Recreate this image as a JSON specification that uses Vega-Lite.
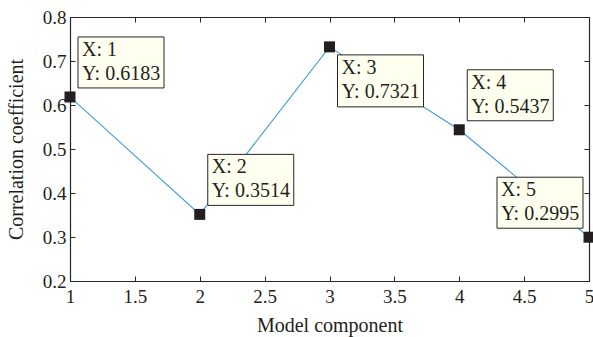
{
  "$schema": "https://vega.github.io/schema/vega-lite/v6.json",
  "width": 519,
  "height": 264,
  "autosize": "none",
  "padding": {"left": 70, "top": 17, "right": 4, "bottom": 56},
  "background": "white",
  "config": {
    "view": {"stroke": null},
    "font": "Liberation Serif",
    "axis": {
      "domainColor": "#262626",
      "domainWidth": 1.2,
      "tickColor": "#262626",
      "tickSize": -5,
      "tickWidth": 1,
      "grid": false,
      "labelFont": "Liberation Serif",
      "labelFontSize": 19,
      "labelColor": "#231f20",
      "titleFont": "Liberation Serif",
      "titleFontSize": 20,
      "titleFontWeight": "normal",
      "titleColor": "#231f20"
    }
  },
  "data": {
    "values": [
      {"x": 1, "y": 0.6183},
      {"x": 2, "y": 0.3514},
      {"x": 3, "y": 0.7321},
      {"x": 4, "y": 0.5437},
      {"x": 5, "y": 0.2995}
    ]
  },
  "transform": [
    {"calculate": "['X: ' + datum.x, 'Y: ' + format(datum.y, '.4f')]", "as": "tip"}
  ],
  "layer": [
    {
      "mark": {"type": "line", "color": "#3f9bd8", "strokeWidth": 1.1},
      "encoding": {
        "x": {"field": "x", "type": "quantitative",
          "scale": {"domain": [1, 5], "nice": false, "zero": false},
          "axis": {"orient": "bottom", "values": [1, 1.5, 2, 2.5, 3, 3.5, 4, 4.5, 5], "format": "~g", "title": "Model component", "labelPadding": 11, "titlePadding": 9, "labelFlush": false}},
        "y": {"field": "y", "type": "quantitative",
          "scale": {"domain": [0.2, 0.8], "nice": false, "zero": false},
          "axis": {"orient": "left", "values": [0.2, 0.3, 0.4, 0.5, 0.6, 0.7, 0.8], "format": "~g", "title": "Correlation coefficient", "labelPadding": 9, "titlePadding": 16, "labelFlush": false}}
      }
    },
    {
      "mark": {"type": "point", "shape": "square", "filled": true, "size": 121, "color": "#231f20", "opacity": 1},
      "encoding": {
        "x": {"field": "x", "type": "quantitative", "axis": {"orient": "top", "values": [1, 1.5, 2, 2.5, 3, 3.5, 4, 4.5, 5], "labels": false, "title": null}},
        "y": {"field": "y", "type": "quantitative", "axis": {"orient": "right", "values": [0.2, 0.3, 0.4, 0.5, 0.6, 0.7, 0.8], "labels": false, "title": null}}
      }
    },
    {
      "transform": [{"filter": "datum.x == 1 || datum.x == 2 || datum.x == 4"}],
      "mark": {"type": "rect", "fill": "#fffff0", "stroke": "#262626", "strokeWidth": 1, "xOffset": 8, "x2Offset": 94, "yOffset": -60, "y2Offset": -9},
      "encoding": {
        "x": {"field": "x", "type": "quantitative", "axis": null},
        "x2": {"field": "x"},
        "y": {"field": "y", "type": "quantitative", "axis": null},
        "y2": {"field": "y"}
      }
    },
    {
      "transform": [{"filter": "datum.x == 1 || datum.x == 2 || datum.x == 4"}],
      "mark": {"type": "text", "align": "left", "baseline": "top", "dx": 12, "dy": -57, "fontSize": 20, "lineHeight": 24, "color": "#231f20", "font": "Liberation Serif"},
      "encoding": {
        "x": {"field": "x", "type": "quantitative", "axis": null},
        "y": {"field": "y", "type": "quantitative", "axis": null},
        "text": {"field": "tip"}
      }
    },
    {
      "transform": [{"filter": "datum.x == 3"}],
      "mark": {"type": "rect", "fill": "#fffff0", "stroke": "#262626", "strokeWidth": 1, "xOffset": 8, "x2Offset": 94, "yOffset": 8, "y2Offset": 60},
      "encoding": {
        "x": {"field": "x", "type": "quantitative", "axis": null},
        "x2": {"field": "x"},
        "y": {"field": "y", "type": "quantitative", "axis": null},
        "y2": {"field": "y"}
      }
    },
    {
      "transform": [{"filter": "datum.x == 3"}],
      "mark": {"type": "text", "align": "left", "baseline": "top", "dx": 12, "dy": 11, "fontSize": 20, "lineHeight": 24, "color": "#231f20", "font": "Liberation Serif"},
      "encoding": {
        "x": {"field": "x", "type": "quantitative", "axis": null},
        "y": {"field": "y", "type": "quantitative", "axis": null},
        "text": {"field": "tip"}
      }
    },
    {
      "transform": [{"filter": "datum.x == 5"}],
      "mark": {"type": "rect", "fill": "#fffff0", "stroke": "#262626", "strokeWidth": 1, "xOffset": -92, "x2Offset": -6, "yOffset": -60, "y2Offset": -9},
      "encoding": {
        "x": {"field": "x", "type": "quantitative", "axis": null},
        "x2": {"field": "x"},
        "y": {"field": "y", "type": "quantitative", "axis": null},
        "y2": {"field": "y"}
      }
    },
    {
      "transform": [{"filter": "datum.x == 5"}],
      "mark": {"type": "text", "align": "left", "baseline": "top", "dx": -88, "dy": -57, "fontSize": 20, "lineHeight": 24, "color": "#231f20", "font": "Liberation Serif"},
      "encoding": {
        "x": {"field": "x", "type": "quantitative", "axis": null},
        "y": {"field": "y", "type": "quantitative", "axis": null},
        "text": {"field": "tip"}
      }
    }
  ],
  "resolve": {"axis": {"x": "independent", "y": "independent"}}
}
